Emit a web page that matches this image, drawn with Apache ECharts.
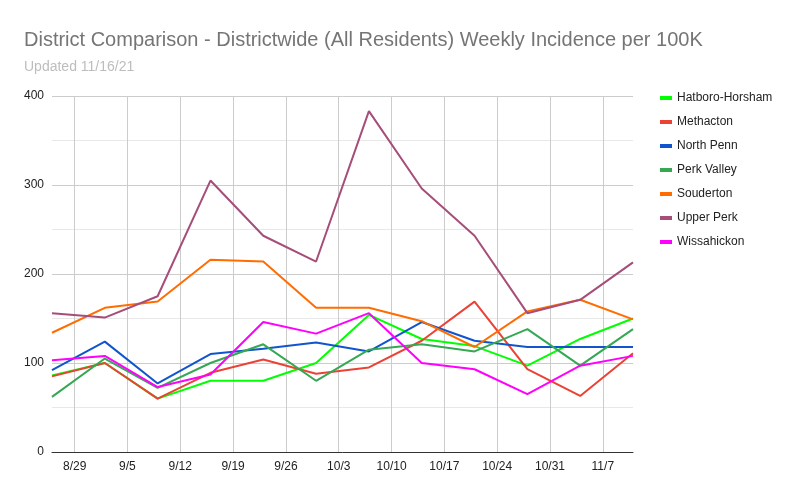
<!DOCTYPE html>
<html lang="en">

<head>
    <meta charset="UTF-8">
    <title>District Comparison</title>
    <style>
        html, body { margin: 0; padding: 0; background: #fff; }
    </style>
</head>

<body>
    <div id="main" style="width: 804px; height: 497px;"></div>

    <script src="https://cdn.jsdelivr.net/npm/echarts@6/dist/echarts.min.js"></script>
    <script>
        // report dates (Thursdays) and Sunday tick labels
        var pointDates = ['2021-08-26', '2021-09-02', '2021-09-09', '2021-09-16', '2021-09-23', '2021-09-30',
            '2021-10-07', '2021-10-14', '2021-10-21', '2021-10-28', '2021-11-04', '2021-11-11'];
        var tickLabels = ['8/29', '9/5', '9/12', '9/19', '9/26', '10/3', '10/10', '10/17', '10/24', '10/31', '11/7'];

        var hatboro = [86, 100, 60, 80, 80, 100, 154, 127, 119, 97, 127, 150];
        var methacton = [85, 100, 60, 89, 104, 88, 95, 125, 169, 93, 63, 111];
        var northPenn = [92, 124, 77, 110, 116, 123, 113, 146, 125, 118, 118, 118];
        var perkValley = [62, 105, 72, 100, 121, 80, 115, 121, 113, 138, 97, 138];
        var souderton = [134, 162, 169, 216, 214, 162, 162, 147, 118, 158, 171, 149];
        var upperPerk = [156, 151, 175, 305, 243, 214, 383, 296, 243, 156, 171, 213];
        var wissahickon = [103, 108, 73, 87, 146, 133, 156, 100, 93, 65, 97, 108];

        var seriesNames = ['Hatboro-Horsham', 'Methacton', 'North Penn', 'Perk Valley', 'Souderton', 'Upper Perk', 'Wissahickon'];
        var seriesValues = [hatboro, methacton, northPenn, perkValley, souderton, upperPerk, wissahickon];
        var colors = ['#00ff00', '#ea4335', '#1155cc', '#34a853', '#ff6d01', '#a64d79', '#ff00ff'];

        // x axis is in days counted from the first Sunday label (8/29)
        var DAY = 86400000;
        var origin = Date.UTC(2021, 7, 29);
        function dayOf(s) {
            var p = s.split('-');
            return Math.round((Date.UTC(+p[0], +p[1] - 1, +p[2]) - origin) / DAY);
        }
        var xDays = pointDates.map(dayOf);
        var tickDays = tickLabels.map(function (l, i) { return i * 7; });

        var myChart = echarts.init(document.getElementById('main'));
        var option = {
            backgroundColor: '#fff',
            color: colors,
            textStyle: { fontFamily: 'Arial, "Liberation Sans", sans-serif' },
            title: {
                text: 'District Comparison - Districtwide (All Residents) Weekly Incidence per 100K',
                subtext: 'Updated 11/16/21',
                left: 19,
                top: 25,
                itemGap: 10,
                textStyle: { fontSize: 20, fontWeight: 'normal', color: '#757575' },
                subtextStyle: { fontSize: 14, color: '#bdbdbd' }
            },
            legend: {
                orient: 'vertical',
                left: 655,
                top: 87,
                itemGap: 12,
                itemWidth: 12,
                itemHeight: 4,
                icon: 'rect',
                textStyle: { fontSize: 12, color: '#222' },
                data: seriesNames
            },
            grid: { left: 52, right: 171, top: 96, bottom: 45 },
            xAxis: {
                type: 'value',
                min: xDays[0],
                max: xDays[xDays.length - 1],
                axisLine: { show: true, lineStyle: { color: '#333' } },
                axisTick: { show: false, customValues: tickDays },
                axisLabel: {
                    customValues: tickDays,
                    color: '#222',
                    fontSize: 12,
                    margin: 9,
                    formatter: function (v) { return tickLabels[Math.round(v / 7)]; }
                },
                splitLine: { show: true, lineStyle: { color: '#cccccc' } }
            },
            yAxis: {
                type: 'value',
                min: 0,
                max: 400,
                interval: 100,
                axisLine: { show: false },
                axisTick: { show: false },
                axisLabel: { color: '#222', fontSize: 12, margin: 8 },
                splitLine: { lineStyle: { color: '#cccccc' } },
                minorTick: { show: false, splitNumber: 2 },
                minorSplitLine: { show: true, lineStyle: { color: '#e8e8e8' } }
            },
            series: seriesNames.map(function (name, i) {
                return {
                    name: name,
                    type: 'line',
                    symbol: 'none',
                    lineStyle: { width: 2 },
                    data: seriesValues[i].map(function (v, j) { return [xDays[j], v]; })
                };
            })
        };
        myChart.setOption(option);
    </script>
</body>

</html>
